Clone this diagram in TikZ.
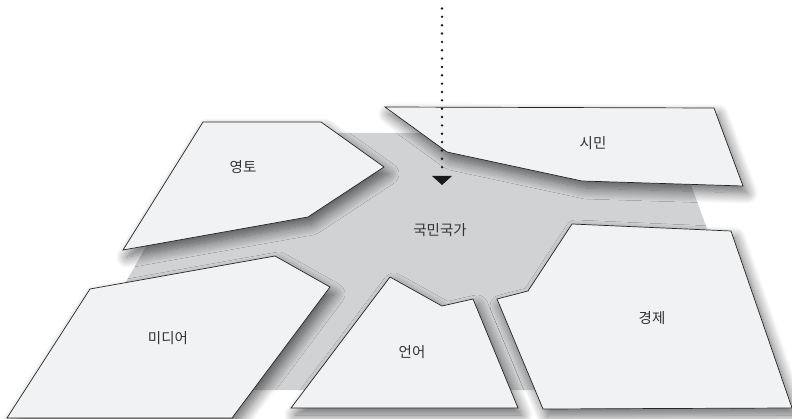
\documentclass[tikz,border=0pt]{standalone}
\usepackage{fontspec}
\newfontfamily\kr{Noto Sans CJK KR}
\usetikzlibrary{shadows.blur}
\definecolor{plane}{HTML}{D1D2D4}
\definecolor{cardfill}{HTML}{F1F2F4}
\definecolor{ink}{HTML}{333333}
\begin{document}
\begin{tikzpicture}[x=1pt,y=-1pt,
  cardshape/.style={fill=cardfill, draw=black!85, line width=0.7pt, line join=miter,
    blur shadow={shadow xshift=4pt, shadow yshift=-7pt, shadow blur radius=11pt, shadow blur steps=14, shadow opacity=60}},
  lbl/.style={font=\kr\fontsize{14.5}{17}\selectfont, text=ink, inner sep=0pt},
  dotline/.style={line width=2.7pt, line cap=round, dash pattern=on 0pt off 8.35pt, black!90},
  tip/.style={fill=black!90}]
\useasboundingbox (0,0) rectangle (792,419);
% base plane
\fill[plane] (210,133) -- (672,133) -- (766,390) -- (65,390) -- cycle;
% cards
\path[cardshape] (203,122) -- (321,122) -- (384,167) -- (308,217) -- (123,250) -- cycle;
\path[cardshape] (385,107) -- (714,108) -- (743,186) -- (582,181) -- (447,152) -- cycle;
\path[cardshape] (90,289) -- (275,256) -- (330,287) -- (232,418) -- (7,418) -- cycle;
\path[cardshape] (390,277) -- (442,306) -- (473,299) -- (518,408) -- (291,408) -- cycle;
\path[cardshape] (572,224) -- (731,231) -- (792,408) -- (543,409) -- (497,299) -- (528,291) -- cycle;
% labels
\node[lbl] (yt) at (243,167) {영토};
\node[lbl] (sm) at (593,143) {시민};
\node[lbl] (gm) at (440,230) {국민국가};
\node[lbl] (md) at (168,338) {미디어};
\node[lbl] (eo) at (412,352) {언어};
\node[lbl] (gj) at (652,318) {경제};
% arrow
\coordinate (atop) at (442,8.5);
\coordinate (aend) at (442,167.3);
\coordinate (atip) at (442,185);
\draw[dotline] (atop) -- (aend);
\fill[tip] ([xshift=-10pt]atip |- 0,176) -- ([xshift=10pt]atip |- 0,176) -- (atip) -- cycle;
\end{tikzpicture}
\end{document}
